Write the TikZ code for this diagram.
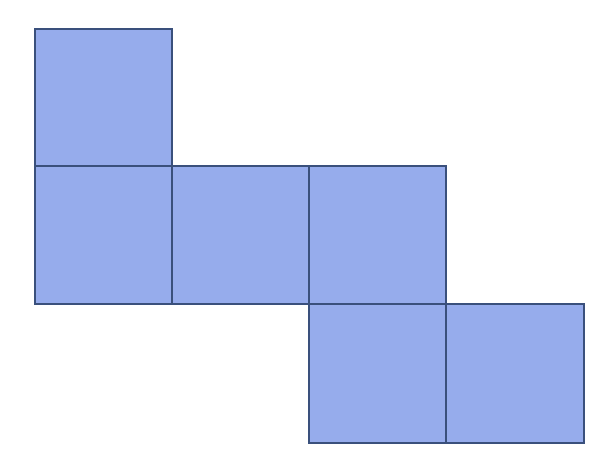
\documentclass[tikz,border=0pt]{standalone}
\usepackage{xcolor}
\definecolor{facefill}{RGB}{150,172,236}
\definecolor{faceedge}{RGB}{58,80,124}

\begin{document}
\begin{tikzpicture}[x=1pt,y=-1pt]
            \useasboundingbox (0,0) rectangle (607,452);
            \tikzset{face/.style={fill=facefill,draw=faceedge,line width=2.4pt}}
            % top square
            \draw[face](35,29) rectangle (172,166);
            % middle row
            \foreach \x in {35,172,309}
                \draw[face](\x,166) rectangle (\x+137,304);
            % bottom row
            \foreach \x in {309,446}
                \draw[face](\x,304) rectangle (\x+138,443);
        \end{tikzpicture}
\end{document}
